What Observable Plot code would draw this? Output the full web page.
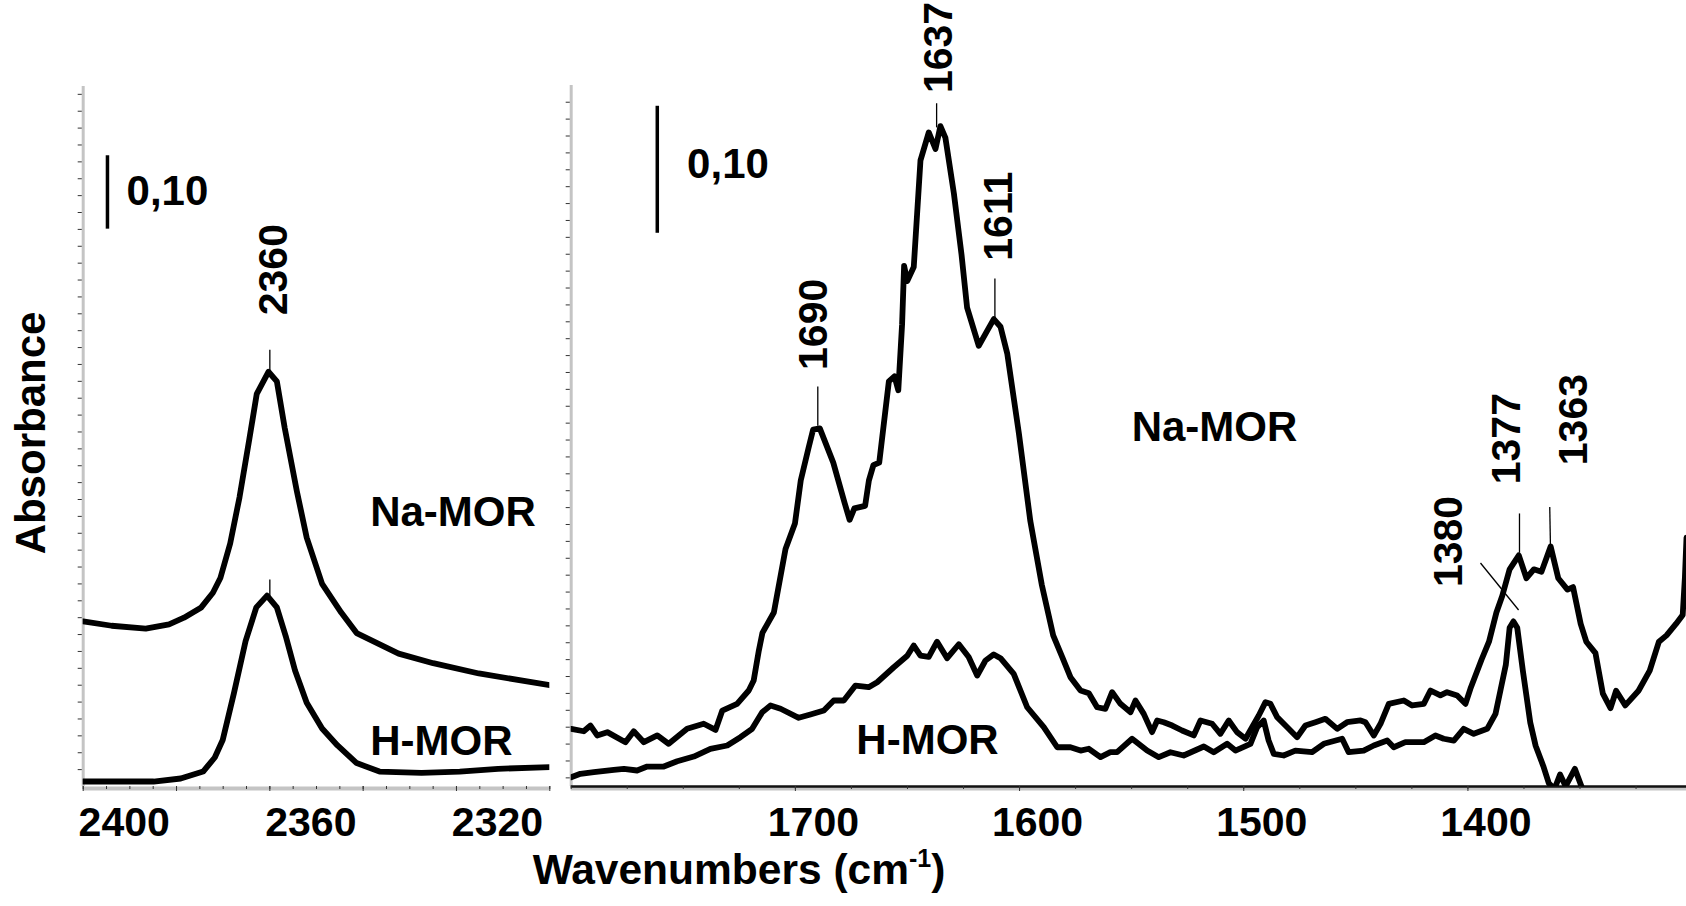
<!DOCTYPE html>
<html>
<head>
<meta charset="utf-8">
<script src="https://cdn.jsdelivr.net/npm/d3@7"></script>
<script src="https://cdn.jsdelivr.net/npm/@observablehq/plot@0.6"></script>
<style>
  html, body { margin: 0; padding: 0; background: #fff; overflow: hidden; }
  #wrap { position: relative; width: 1686px; height: 906px; overflow: hidden; font-family: "Liberation Sans", Arial, sans-serif; }
  #wrap svg { position: absolute; left: 0; top: 0; max-width: none !important; }
  .ttl { position: absolute; font-weight: bold; color: #000; white-space: nowrap; line-height: 1; }
</style>
</head>
<body>
<div id="wrap"></div>
<script>
// ---------- DATA ----------
// Left panel (CO2 region)
const leftNaWn = [2400, 2393.9, 2386.6, 2381.6, 2378.4, 2374.7, 2372.2, 2370.6, 2368.5, 2366.5, 2364.4, 2362.8, 2360.3, 2358.5, 2356.8, 2354.2, 2352.1, 2348.8, 2344.7, 2341.4, 2332.4, 2325.0, 2315.2, 2300];
const leftNaAbs = [0.225, 0.219, 0.215, 0.221, 0.230, 0.244, 0.264, 0.284, 0.331, 0.394, 0.473, 0.535, 0.565, 0.552, 0.488, 0.402, 0.339, 0.276, 0.237, 0.209, 0.181, 0.168, 0.154, 0.138];
const leftHWn = [2400, 2384.9, 2379.1, 2374.3, 2371.8, 2370.1, 2367.7, 2365.2, 2362.9, 2360.6, 2358.5, 2356.6, 2354.6, 2352.1, 2348.8, 2345.5, 2341.4, 2336.5, 2327.5, 2319.3, 2311.1, 2300];
const leftHAbs = [0.0068, 0.0068, 0.0109, 0.0204, 0.0395, 0.0634, 0.127, 0.198, 0.244, 0.260, 0.244, 0.205, 0.158, 0.114, 0.079, 0.0559, 0.0319, 0.0204, 0.0185, 0.0204, 0.0241, 0.0264];

// Right panel (1800-1300 region)
const rightNaWn = [1800.0,1794.4,1791.4,1788.4,1783.9,1775.8,1772.1,1767.6,1761.6,1756.5,1748.3,1740.9,1735.6,1732.6,1726.0,1720.8,1718.6,1716.3,1714.7,1709.6,1704.4,1700.2,1697.6,1694.2,1692.1,1689.1,1683.1,1678.0,1675.8,1673.7,1668.9,1667.2,1665.2,1662.6,1658.3,1655.8,1654.1,1652.4,1651.5,1650.1,1647.2,1644.2,1640.5,1637.5,1635.3,1633.1,1629.3,1625.9,1623.4,1618.2,1614.4,1611.5,1608.5,1605.5,1600.3,1595.2,1590.1,1585.0,1581.0,1577.3,1572.8,1569.1,1565.4,1561.7,1558.7,1555.0,1550.5,1548.3,1544.6,1540.9,1538.6,1535.7,1531.9,1527.5,1522.3,1519.3,1514.1,1510.4,1506.7,1503.0,1499.2,1493.3,1490.3,1488.1,1485.1,1480.6,1476.2,1472.5,1468.0,1463.6,1458.3,1453.9,1447.9,1445.7,1442.0,1439.0,1435.3,1428.6,1424.9,1419.7,1416.7,1412.3,1409.3,1404.8,1401.1,1398.9,1393.9,1390.6,1387.3,1384.7,1381.4,1377.3,1373.9,1370.6,1367.2,1363.1,1359.7,1355.6,1353.1,1349.7,1347.2,1343.1,1339.8,1336.4,1333.9,1329.8,1323.9,1318.9,1314.8,1311.4,1307.2,1304.2,1303.2,1302.5];
const rightNaAbs = [0.0454,0.0435,0.0480,0.0402,0.0428,0.0349,0.0435,0.0349,0.0402,0.0336,0.0454,0.0494,0.0446,0.0598,0.0651,0.0756,0.0835,0.107,0.121,0.137,0.187,0.207,0.241,0.266,0.281,0.282,0.255,0.223,0.210,0.219,0.221,0.241,0.253,0.255,0.319,0.323,0.312,0.364,0.410,0.398,0.409,0.493,0.515,0.502,0.520,0.511,0.467,0.419,0.377,0.347,0.359,0.368,0.362,0.341,0.278,0.209,0.159,0.119,0.102,0.0861,0.0756,0.0735,0.0624,0.0612,0.0743,0.0651,0.0585,0.0677,0.0572,0.0428,0.0520,0.0506,0.0480,0.0441,0.0402,0.0520,0.0494,0.0415,0.0520,0.0428,0.0376,0.0559,0.0664,0.0651,0.0546,0.0467,0.0388,0.0480,0.0506,0.0533,0.0454,0.0506,0.0520,0.0506,0.0402,0.0494,0.0651,0.0677,0.0638,0.0651,0.0756,0.0717,0.0743,0.0717,0.0651,0.0769,0.100,0.114,0.137,0.150,0.171,0.182,0.164,0.171,0.169,0.189,0.164,0.155,0.157,0.128,0.114,0.105,0.0731,0.0617,0.0754,0.0639,0.0754,0.0913,0.114,0.119,0.128,0.135,0.165,0.196];
const rightHWn = [1800,1795.9,1789.9,1781.0,1776.5,1770.6,1766.1,1758.7,1752.7,1745.3,1737.9,1730.4,1724.5,1719.3,1714.8,1711.1,1706.6,1698.5,1693.3,1687.3,1682.9,1678.4,1673.2,1667.3,1663.5,1656.1,1650.1,1647.2,1644.2,1640.5,1636.8,1632.3,1627.1,1622.7,1618.9,1615.2,1611.5,1608.5,1602.6,1596.6,1589.2,1583.2,1577.3,1572.8,1569.1,1563.9,1559.5,1556.5,1549.8,1543.1,1537.9,1532.7,1526.8,1517.8,1513.4,1507.4,1503.7,1497.0,1494.0,1491.1,1488.9,1486.6,1482.2,1477.0,1469.5,1464.3,1456.1,1453.2,1446.5,1442.0,1436.0,1433.1,1427.9,1419.7,1414.5,1410.8,1406.3,1401.9,1397.4,1391.4,1387.7,1385.5,1383.1,1381.4,1379.7,1378.0,1375.5,1372.2,1369.8,1366.4,1363.9,1361.4,1358.9,1356.4,1352.3,1348.9,1340.9,1300];
const rightHAbs = [0.0073,0.0100,0.0113,0.0131,0.0139,0.0126,0.0157,0.0157,0.0199,0.0236,0.0297,0.0323,0.0388,0.0454,0.0585,0.0638,0.0612,0.0541,0.0567,0.0598,0.0677,0.0677,0.0795,0.0782,0.0821,0.0939,0.103,0.111,0.103,0.102,0.114,0.101,0.112,0.102,0.0874,0.0992,0.104,0.101,0.0887,0.0624,0.0467,0.0309,0.0309,0.0283,0.0297,0.0231,0.0270,0.0270,0.0376,0.0283,0.0231,0.0270,0.0244,0.0315,0.0270,0.0336,0.0283,0.0336,0.0467,0.0520,0.0362,0.0257,0.0244,0.0283,0.0270,0.0336,0.0376,0.0270,0.0283,0.0323,0.0362,0.0309,0.0349,0.0349,0.0402,0.0376,0.0362,0.0454,0.0415,0.0454,0.0572,0.0756,0.0957,0.125,0.130,0.125,0.0913,0.0504,0.0321,0.0162,0.0025,-0.0020,0.0094,0.0002,0.0139,-0.0020,-0.011,-0.011];

// Axis ticks (wavenumbers)
const leftXMinor = d3.range(2400, 2299, -5);
const leftXMajor = d3.range(2400, 2299, -20);
const leftXLabels = [2400, 2360, 2320];
const rightXMinor = d3.range(1800, 1299, -25);
const rightXMajor = [1700, 1600, 1500, 1400];
const rightXLabels = [1700, 1600, 1500, 1400];

// Peak annotations
const leftPeakText = ["2360"];
const leftPeakWn = [2359.1];
const leftPeakAbs = [0.642];
const leftLeadX1 = [2360, 2360], leftLeadY1 = [0.567, 0.260];
const leftLeadX2 = [2360, 2360], leftLeadY2 = [0.595, 0.282];

const rightPeakText = ["1690", "1637", "1611", "1380", "1377", "1363"];
const rightPeakWn = [1691.9, 1636.2, 1609.4, 1408.3, 1382.5, 1352.7];
const rightPeakAbs = [0.328, 0.546, 0.414, 0.157, 0.238, 0.253];
const rightLeadX1 = [1690, 1637, 1611, 1377.4, 1377, 1363.2];
const rightLeadY1 = [0.284, 0.519, 0.369, 0.139, 0.184, 0.190];
const rightLeadX2 = [1690, 1637, 1611, 1394.4, 1377, 1363.5];
const rightLeadY2 = [0.315, 0.538, 0.400, 0.176, 0.215, 0.220];

// Sample names
const sampleNames = ["Na-MOR", "H-MOR"];
const leftNameWn = [2338.5, 2338.5];
const leftNameAbs = [0.373, 0.0613];
const rightNameWn = [1550.0, 1672.8];
const rightNameAbs = [0.283, 0.0362];

// 0,10 absorbance scale bars
const barLabel = "0,10";
const leftBar = {wn: 2394.8, y0: 0.760, y1: 0.860, textWn: 2390.7, textAbs: 0.811};
const rightBar = {wn: 1761.6, y0: 0.436, y1: 0.536, textWn: 1748.3, textAbs: 0.490};

// ---------- BUILD ----------
const W = 1686, H = 906;
const FONT = '"Liberation Sans", Arial, Helvetica, sans-serif';
const toRows = (xs, ys) => xs.map((x, i) => ({x, y: ys[i]}));
const leads = (x1, y1, x2, y2) => x1.map((d, i) => ({x1: d, y1: y1[i], x2: x2[i], y2: y2[i]}));
const blank = () => "";

function panel(o) {
  const yTicks = d3.range(o.yTick0, o.yMax + 1e-9, o.yStep);
  return Plot.plot({
    width: W, height: H,
    marginLeft: o.left, marginRight: W - o.right, marginTop: o.top, marginBottom: H - o.bottom,
    x: {domain: o.xDomain},
    y: {domain: [0, o.yMax]},
    style: {fontFamily: FONT, fontSize: "41px", fontWeight: "bold", color: "#000", background: "transparent", overflow: "visible", maxWidth: "none"},
    marks: [
      // y axis (ticks only)
      Plot.axisY({ticks: yTicks, tickSize: 5, tickFormat: blank, stroke: "#333", strokeWidth: 1}),
      Plot.ruleX([o.xDomain[0]], {stroke: "#c4c4c4", strokeWidth: 3}),
      // x axis
      Plot.ruleY([0], {stroke: "#c4c4c4", strokeWidth: 4, dy: 2}),
      o.darkAxis ? Plot.ruleY([0], {stroke: "#111", strokeWidth: 2.5}) : null,
      Plot.axisX({ticks: o.xMinor, tickSize: 3, tickFormat: blank, stroke: "#333", strokeWidth: 1}),
      Plot.axisX({ticks: o.xMajor, tickSize: 5, tickFormat: blank, stroke: "#333", strokeWidth: 1}),
      Plot.axisX({ticks: o.xLabels, tickSize: 0, tickPadding: 20, tickFormat: d => String(d), dx: o.labelDx}),
      // spectra
      Plot.line(toRows(o.naWn, o.naAbs), {x: "x", y: "y", stroke: "#000", strokeWidth: 5.8, strokeLinejoin: "round", strokeLinecap: "round", clip: true}),
      Plot.line(toRows(o.hWn, o.hAbs), {x: "x", y: "y", stroke: "#000", strokeWidth: 5.8, strokeLinejoin: "round", strokeLinecap: "round", clip: true}),
      // leader lines
      Plot.link(leads(o.lx1, o.ly1, o.lx2, o.ly2), {x1: "x1", y1: "y1", x2: "x2", y2: "y2", stroke: "#000", strokeWidth: 1.3}),
      // peak labels
      Plot.text(o.peakText.map((t, i) => ({t, x: o.peakWn[i], y: o.peakAbs[i]})), {x: "x", y: "y", text: "t", rotate: -90, textAnchor: "start", fontSize: 41, fontWeight: "bold", fill: "#000"}),
      // sample names
      Plot.text(sampleNames.map((t, i) => ({t, x: o.nameWn[i], y: o.nameAbs[i]})), {x: "x", y: "y", text: "t", textAnchor: "start", fontSize: 42, fontWeight: "bold", fill: "#000"}),
      // scale bar
      Plot.link([o.bar], {x1: "wn", x2: "wn", y1: "y0", y2: "y1", stroke: "#000", strokeWidth: 3.5}),
      Plot.text([o.bar], {x: "textWn", y: "textAbs", text: () => barLabel, textAnchor: "start", fontSize: 42, fontWeight: "bold", fill: "#000"})
    ].filter(Boolean)
  });
}

const leftSvg = panel({
  left: 82.7, right: 549.3, top: 86, bottom: 786,
  xDomain: [2400, 2300], yMax: (786 - 86) / 734, yTick0: 0.023, yStep: 0.023,
  xMinor: leftXMinor, xMajor: leftXMajor, xLabels: leftXLabels, labelDx: 41, darkAxis: false,
  naWn: leftNaWn, naAbs: leftNaAbs, hWn: leftHWn, hAbs: leftHAbs,
  lx1: leftLeadX1, ly1: leftLeadY1, lx2: leftLeadX2, ly2: leftLeadY2,
  peakText: leftPeakText, peakWn: leftPeakWn, peakAbs: leftPeakAbs,
  nameWn: leftNameWn, nameAbs: leftNameAbs, bar: leftBar
});

const rightSvg = panel({
  left: 570.7, right: W, top: 85, bottom: 786,
  xDomain: [1800, 1302.5], yMax: (786 - 85) / 1270, yTick0: 0.0068, yStep: 0.0133,
  xMinor: rightXMinor, xMajor: rightXMajor, xLabels: rightXLabels, labelDx: 18, darkAxis: true,
  naWn: rightNaWn, naAbs: rightNaAbs, hWn: rightHWn, hAbs: rightHAbs,
  lx1: rightLeadX1, ly1: rightLeadY1, lx2: rightLeadX2, ly2: rightLeadY2,
  peakText: rightPeakText, peakWn: rightPeakWn, peakAbs: rightPeakAbs,
  nameWn: rightNameWn, nameAbs: rightNameAbs, bar: rightBar
});

const wrap = document.getElementById("wrap");
wrap.appendChild(leftSvg);
wrap.appendChild(rightSvg);

const yTitle = document.createElement("div");
yTitle.className = "ttl";
yTitle.textContent = "Absorbance";
yTitle.style.cssText += "font-size:42px;left:31px;top:433px;transform:translate(-50%,-50%) rotate(-90deg);";
wrap.appendChild(yTitle);

const xTitle = document.createElement("div");
xTitle.className = "ttl";
xTitle.innerHTML = "Wavenumbers (cm<span style=\"font-size:25px;position:relative;top:-17px\">-1</span>)";
xTitle.style.cssText += "font-size:42.5px;left:739px;top:849px;transform:translateX(-50%);";
wrap.appendChild(xTitle);
</script>
</body>
</html>
